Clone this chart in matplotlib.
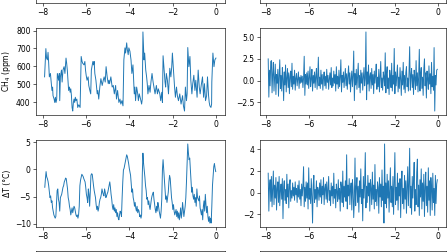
import matplotlib
matplotlib.use("Agg")
import matplotlib.pyplot as plt
import numpy as np

# ---------------- data (ages in kyr, plotted in units of 100 kyr) ----------------
ch4_age = [-791, -785, -782, -778, -775, -772, -769, -764, -760, -757,
           -754, -752, -747, -744, -741, -738, -735, -732, -729, -726,
           -723, -721, -718, -713, -710, -706, -701, -697, -692, -689,
           -686, -683, -680, -676, -673, -670, -667, -664, -661, -658,
           -655, -652, -649, -646, -642, -638, -633, -627, -622, -618,
           -615, -609, -605, -602, -599, -595, -590, -587, -582, -578,
           -575, -568, -565, -562, -559, -554, -548, -545, -541, -536,
           -531, -525, -520, -516, -511, -507, -502, -497, -494, -491,
           -485, -479, -474, -469, -463, -459, -454, -448, -443, -439,
           -434, -429, -425, -420, -417, -412, -409, -405, -402, -397,
           -392, -388, -383, -380, -377, -374, -371, -366, -361, -358,
           -354, -348, -343, -340, -337, -332, -329, -324, -320, -317,
           -314, -309, -304, -300, -295, -290, -286, -281, -275, -270,
           -266, -259, -255, -250, -247, -244, -239, -235, -232, -229,
           -224, -219, -213, -208, -204, -201, -196, -191, -187, -182,
           -178, -173, -167, -161, -154, -150, -145, -141, -136, -133,
           -130, -125, -120, -116, -111, -107, -102, -97, -93, -87,
           -82, -77, -73, -68, -62, -57, -53, -48, -43, -39,
           -34, -31, -28, -23, -20, -19, -14, -9, -5, 0]

ch4_ppm = [541, 699, 646, 636, 678, 617, 541, 560, 503, 465,
           484, 436, 417, 398, 427, 398, 417, 560, 541, 522,
           560, 408, 541, 579, 512, 579, 598, 560, 646, 617,
           579, 522, 465, 484, 455, 474, 436, 370, 350, 398,
           417, 398, 427, 408, 417, 370, 385, 370, 655, 627,
           617, 608, 627, 579, 550, 522, 541, 493, 465, 446,
           579, 627, 608, 627, 560, 522, 446, 465, 417, 484,
           531, 493, 522, 541, 512, 598, 541, 503, 522, 503,
           541, 484, 493, 446, 493, 417, 465, 398, 417, 389,
           408, 379, 636, 703, 674, 731, 693, 665, 703, 684,
           636, 560, 608, 522, 446, 484, 408, 484, 446, 408,
           446, 417, 389, 417, 792, 636, 674, 579, 541, 503,
           446, 493, 455, 512, 560, 512, 484, 446, 493, 446,
           474, 446, 408, 455, 398, 659, 579, 512, 484, 560,
           522, 446, 589, 541, 598, 674, 579, 484, 427, 484,
           436, 408, 446, 389, 436, 379, 350, 484, 408, 446,
           705, 598, 655, 522, 446, 503, 550, 465, 522, 427,
           579, 484, 446, 493, 541, 427, 503, 408, 436, 541,
           436, 398, 379, 370, 389, 512, 674, 598, 636, 646]

grid_age = [-790, -787, -784, -781, -778, -775, -772, -769, -766, -763,
            -760, -757, -754, -751, -748, -745, -742, -739, -736, -733,
            -730, -727, -724, -721, -718, -715, -712, -709, -706, -703,
            -700, -697, -694, -691, -688, -685, -682, -679, -676, -673,
            -670, -667, -664, -661, -658, -655, -652, -649, -646, -643,
            -640, -637, -634, -631, -628, -625, -622, -619, -616, -613,
            -610, -607, -604, -601, -598, -595, -592, -589, -586, -583,
            -580, -577, -574, -571, -568, -565, -562, -559, -556, -553,
            -550, -547, -544, -541, -538, -535, -532, -529, -526, -523,
            -520, -517, -514, -511, -508, -505, -502, -499, -496, -493,
            -490, -487, -484, -481, -478, -475, -472, -469, -466, -463,
            -460, -457, -454, -451, -448, -445, -442, -439, -436, -433,
            -430, -427, -424, -421, -418, -415, -412, -409, -406, -403,
            -400, -397, -394, -391, -388, -385, -382, -379, -376, -373,
            -370, -367, -364, -361, -358, -355, -352, -349, -346, -343,
            -340, -337, -334, -331, -328, -325, -322, -319, -316, -313,
            -310, -307, -304, -301, -298, -295, -292, -289, -286, -283,
            -280, -277, -274, -271, -268, -265, -262, -259, -256, -253,
            -250, -247, -244, -241, -238, -235, -232, -229, -226, -223,
            -220, -217, -214, -211, -208, -205, -202, -199, -196, -193,
            -190, -187, -184, -181, -178, -175, -172, -169, -166, -163,
            -160, -157, -154, -151, -148, -145, -142, -139, -136, -133,
            -130, -127, -124, -121, -118, -115, -112, -109, -106, -103,
            -100, -97, -94, -91, -88, -85, -82, -79, -76, -73,
            -70, -67, -64, -61, -58, -55, -52, -49, -46, -43,
            -40, -37, -34, -31, -28, -25, -22, -19, -16, -13,
            -10, -7, -4, -1]

temp_dT = [-3.3, -1.7, -0.4, -1.4, -1.7, -2.2, -3.0, -4.2, -5.2, -4.9, -6.1, -5.8, -7.1, -7.7, -8.4, -8.7, -9.0, -8.7, -6.1, -3.9,
           -3.6, -5.5, -6.1, -7.7, -5.2, -4.9, -4.6, -4.0, -3.3, -3.0, -2.3, -2.0, -1.6, -1.7, -2.7, -3.6, -5.2, -5.8, -6.8, -7.4, -8.4,
           -7.7, -7.1, -8.0, -7.4, -6.8, -7.1, -7.7, -8.4, -8.7, -8.4, -9.0, -8.4, -6.8, -3.0, -2.0, -1.4, -0.9, -1.1, -1.3, -1.7, -2.0,
           -2.3, -3.3, -4.6, -5.2, -6.1, -3.6, -4.6, -6.8, -4.2, -1.1, -0.8, -0.9, -2.0, -3.0, -3.9, -4.6, -5.2, -6.5, -7.4, -6.8,
           -7.7, -7.1, -6.1, -5.5, -5.2, -4.6, -3.6, -4.2, -4.6, -4.9, -3.6, -4.2, -5.2, -4.9, -4.5, -4.2, -3.6, -3.0, -2.3, -3.3, -4.6,
           -5.5, -6.8, -7.4, -6.5, -7.7, -7.1, -8.0, -7.4, -8.7, -8.0, -9.0, -9.3, -8.4, -7.7, -8.0, -8.7, -5.2, -2.3, -0.1, 0.2,
           0.8, 1.5, 2.0, 2.7, 2.4, 1.8, 1.1, 0.2, -0.4, -1.1, -2.7, -4.2, -3.6, -5.2, -5.8, -6.8, -6.1, -7.1, -7.7, -6.8, -8.0,
           -7.4, -7.7, -8.7, -8.4, -9.0, -8.4, -1.1, 3.0, 1.1, -0.1, -1.4, -3.0, -3.9, -5.5, -5.2, -6.5, -5.8, -6.8, -7.4, -6.5,
           -5.5, -4.9, -4.5, -4.2, -5.5, -6.5, -7.4, -8.0, -6.8, -7.7, -6.1, -6.8, -7.7, -8.4, -9.0, -7.7, -5.5, -0.1, 1.8, -0.1, -2.3,
           -4.2, -5.5, -4.9, -6.1, -5.2, -4.2, -2.3, -1.1, -1.7, -3.6, -5.2, -6.1, -7.4, -6.5, -7.7, -8.4, -7.9, -7.4, -8.7, -7.7, -9.0,
           -8.0, -9.3, -8.4, -7.1, -9.0, -8.0, -6.1, -7.4, -8.7, -7.7, -6.8, -5.2, -2.3, 1.5, 4.7, 3.0, 1.8, 2.1, -0.1, -2.3,
           -4.2, -3.3, -4.9, -5.5, -4.6, -6.1, -5.2, -6.8, -3.6, -5.2, -5.5, -5.8, -4.9, -7.1, -7.7, -8.4, -7.4, -9.3, -6.8, -5.8, -7.7,
           -4.6, -6.5, -8.0, -6.8, -8.7, -9.6, -8.7, -9.9, -9.0, -9.9, -6.8, -3.0, -1.1, 0.5, 1.1, 0.2, -0.4]

ch4_resid = [2.5, -1.9, 1.2, -0.6, 2.2, 2.3, -1.4, 0.8, 2.1, -1.2, 0.4, 1.9, -1.6, 0.7, -0.3, 1.3, -1.8, 0.5, 2.4, -0.9,
             0.6, -1.2, 1.5, 0.2, -2.3, 1.0, -0.5, 1.8, -1.3, 0.3, 1.4, -0.8, 0.9, -1.5, 0.4, 1.1, -0.7, 2.0, -1.0, 0.5,
             -0.4, 1.2, -1.1, 0.3, 0.8, -0.6, 0.2, 1.0, -0.9, 0.4, -0.3, 0.6, -0.2, 0.5, -0.8, 0.3, 2.8, -1.7, 0.7, -0.4,
             0.9, -0.5, 1.1, -0.9, 0.4, 1.6, -0.7, 0.2, 1.3, -1.2, 0.6, -0.3, 1.0, -0.8, 0.5, 1.4, -1.0, 0.3, 2.7, -0.6,
             0.4, -0.9, 1.2, -0.4, 0.7, -1.1, 0.3, 1.0, -0.6, 0.5, -0.9, 1.3, -0.2, 0.6, -1.0, 0.2, 0.9, -0.5, 1.5, -0.8,
             0.3, -0.6, 1.1, -0.3, 0.7, -1.2, 1.6, -0.4, 0.5, -0.9, 1.2, -0.7, 0.4, 2.4, -1.3, 0.6, -0.2, 1.0, -0.8, 0.3,
             1.4, -0.6, 0.8, -1.0, 0.5, 1.7, -0.4, 0.9, -1.3, 0.2, 1.1, -0.7, 0.6, 3.4, -2.3, 0.8, -0.5, 1.3, -1.0, 0.4,
             2.0, -0.8, 0.6, -1.4, 1.2, -0.3, 0.9, -1.1, 0.4, 1.5, -0.6, 0.2, 5.6, -2.2, 1.0, -0.4, 1.8, -1.2, 0.5, 0.9,
             -0.9, 1.4, -0.5, 0.7, -1.5, 1.1, -0.3, 0.6, 1.9, -1.0, 0.4, -0.7, 1.3, -1.3, 0.5, 2.2, -0.8, 0.3, -1.1, 1.0,
             0.4, -0.6, 3.2, -1.4, 0.8, 1.6, -0.9, 0.3, -1.6, 1.2, 0.5, -0.8, 2.0, -1.2, 0.6, -0.4, 3.7, -1.5, 1.0, -0.6,
             0.7, 1.8, -1.3, 0.4, -0.9, 1.5, 0.2, -1.7, 1.1, -0.5, 2.1, -1.0, 0.6, -1.4, 0.9, 1.6, -0.7, 0.3, -1.2, 1.0,
             3.9, -1.1, 0.5, 1.4, -0.8, 0.7, -1.6, 1.2, 0.3, -1.0, 2.3, -0.6, 0.9, -1.3, 0.5, 3.6, -1.2, 0.8, 1.5, -0.9,
             0.4, -1.7, 1.3, 2.5, -0.6, 0.9, -2.0, 1.1, 0.3, -1.0, 1.7, -0.4, 0.8, -1.5, 2.1, -0.7, 0.5, -1.1, 3.8, -3.5,
             0.6, -0.5, 1.2, 1.3]

temp_resid = [1.8, -1.7, 0.6, 1.2, -0.8, 1.5, -1.3, 0.3, 2.0, -1.1, 0.7, -0.5, 1.4, -1.6, 0.4, 1.0, -0.9, 1.5, -1.2, 0.2,
              0.8, -0.6, 1.3, -2.4, 0.5, 1.1, -0.7, 0.3, -1.0, 1.7, -0.4, 0.8, -1.4, 0.6, 1.2, -0.8, 0.2, -0.5, 0.9, -0.3,
              0.5, -0.7, 1.0, -0.2, 0.4, -0.9, 0.7, -0.4, 1.1, -0.6, 0.3, -1.2, 0.8, -0.3, 0.6, 2.4, -1.3, 0.5, -0.8, 1.0,
              -0.5, 0.9, -1.5, 2.3, -0.6, 0.4, -1.0, 1.3, -0.4, -2.8, 0.7, 1.6, -0.9, 0.3, -0.6, 1.1, -1.3, 0.5, 0.2, -0.7,
              0.9, -0.4, 1.2, -1.0, 0.6, -0.2, 1.4, -1.1, 0.4, 0.8, -0.6, 1.0, -0.9, 0.3, 1.5, -0.7, 0.2, -1.2, 0.9, -0.3,
              0.6, -1.0, 1.8, -0.5, 0.3, -1.4, 0.8, 0.1, -0.8, 1.2, -0.6, 0.4, -1.7, 1.0, 0.5, -0.9, 2.0, -1.3, 0.6, -0.4,
              1.1, -0.8, 3.5, -1.5, 0.7, -0.3, 1.3, -1.1, 0.4, 0.9, -1.6, 1.2, 0.2, -2.3, -0.6, 3.2, -1.2, 0.5, 1.4, -0.9,
              0.6, -1.8, 1.1, -0.4, 2.2, -1.0, 0.3, -2.6, 1.5, -0.5, 0.8, 3.7, -1.4, 0.6, -0.9, 1.6, -0.3, 0.9, -1.7, 1.2,
              0.4, -1.1, 1.9, -0.6, 0.7, -1.5, 2.6, -0.8, 0.3, -1.2, 1.0, 0.5, -1.9, 1.4, -0.4, 0.8, -1.3, 2.1, -0.7, 0.6,
              -2.8, 4.5, -1.0, 0.9, -1.4, 1.7, -0.5, 1.1, -1.8, 0.4, 2.3, -0.9, 0.6, -1.3, 1.5, -2.0, 0.8, 3.7, -1.1, 0.5,
              -0.7, 1.8, -1.6, 0.9, -0.3, 1.3, -2.3, 0.7, 2.0, -1.0, 0.4, -1.5, 1.6, -0.6, 1.1, -1.9, 0.5, 2.4, -1.2, 0.8,
              4.1, -1.4, 0.6, -2.0, 1.5, -0.5, 1.0, 2.8, -1.7, 0.3, -1.1, 1.9, 3.1, -1.3, 0.7, -2.1, 1.2, -0.4, 2.2, -1.5,
              0.9, -0.8, 1.7, -2.2, 0.5, 1.9, -1.2, 0.6, -1.8, 2.3, -0.7, 1.1, -2.1, 1.4, 0.3, -1.6, 1.8, -0.9, 0.4, -2.1,
              1.6, -1.0, 0.8, 1.2]

ch4_label = "CH$_4$ (ppm)"
temp_label = "ΔT (°C)"
line_color = "#1f77b4"

# ---------------- layout ----------------
W, H, DPI = 448, 252, 55
fig = plt.figure(figsize=(W / DPI + 1e-4, H / DPI + 1e-4), dpi=DPI)


def rect(x0, x1, ytop, ybot):
    return [x0 / W, 1 - ybot / H, (x1 - x0) / W, (ybot - ytop) / H]


LEFT = (36, 224.5)
RIGHT = (259.5, 446)
LW = 1.25

ax_ch4 = fig.add_axes(rect(*LEFT, 28, 115))
ax_ch4r = fig.add_axes(rect(*RIGHT, 28, 115), sharex=ax_ch4)
ax_t = fig.add_axes(rect(*LEFT, 140, 227), sharex=ax_ch4)
ax_tr = fig.add_axes(rect(*RIGHT, 140, 227), sharex=ax_ch4)

ax_ch4.plot(np.array(ch4_age) / 100, ch4_ppm, color=line_color, lw=LW)
ax_ch4.set_ylabel(ch4_label)
ax_ch4r.plot(np.array(grid_age) / 100, ch4_resid, color=line_color, lw=LW)
ax_t.plot(np.array(grid_age) / 100, temp_dT, color=line_color, lw=LW)
ax_t.set_ylabel(temp_label)
ax_tr.plot(np.array(grid_age) / 100, temp_resid, color=line_color, lw=LW)

# partially visible neighbouring rows (cropped in the reference)
for cols in (LEFT, RIGHT):
    top = fig.add_axes(rect(*cols, -84, 3), sharex=ax_ch4)
    top.set_yticks([])
    bot = fig.add_axes(rect(*cols, 251, 338), sharex=ax_ch4)
    bot.set_yticks([])
    bot.tick_params(labelbottom=False)

fig.savefig("out.png", dpi=DPI)
